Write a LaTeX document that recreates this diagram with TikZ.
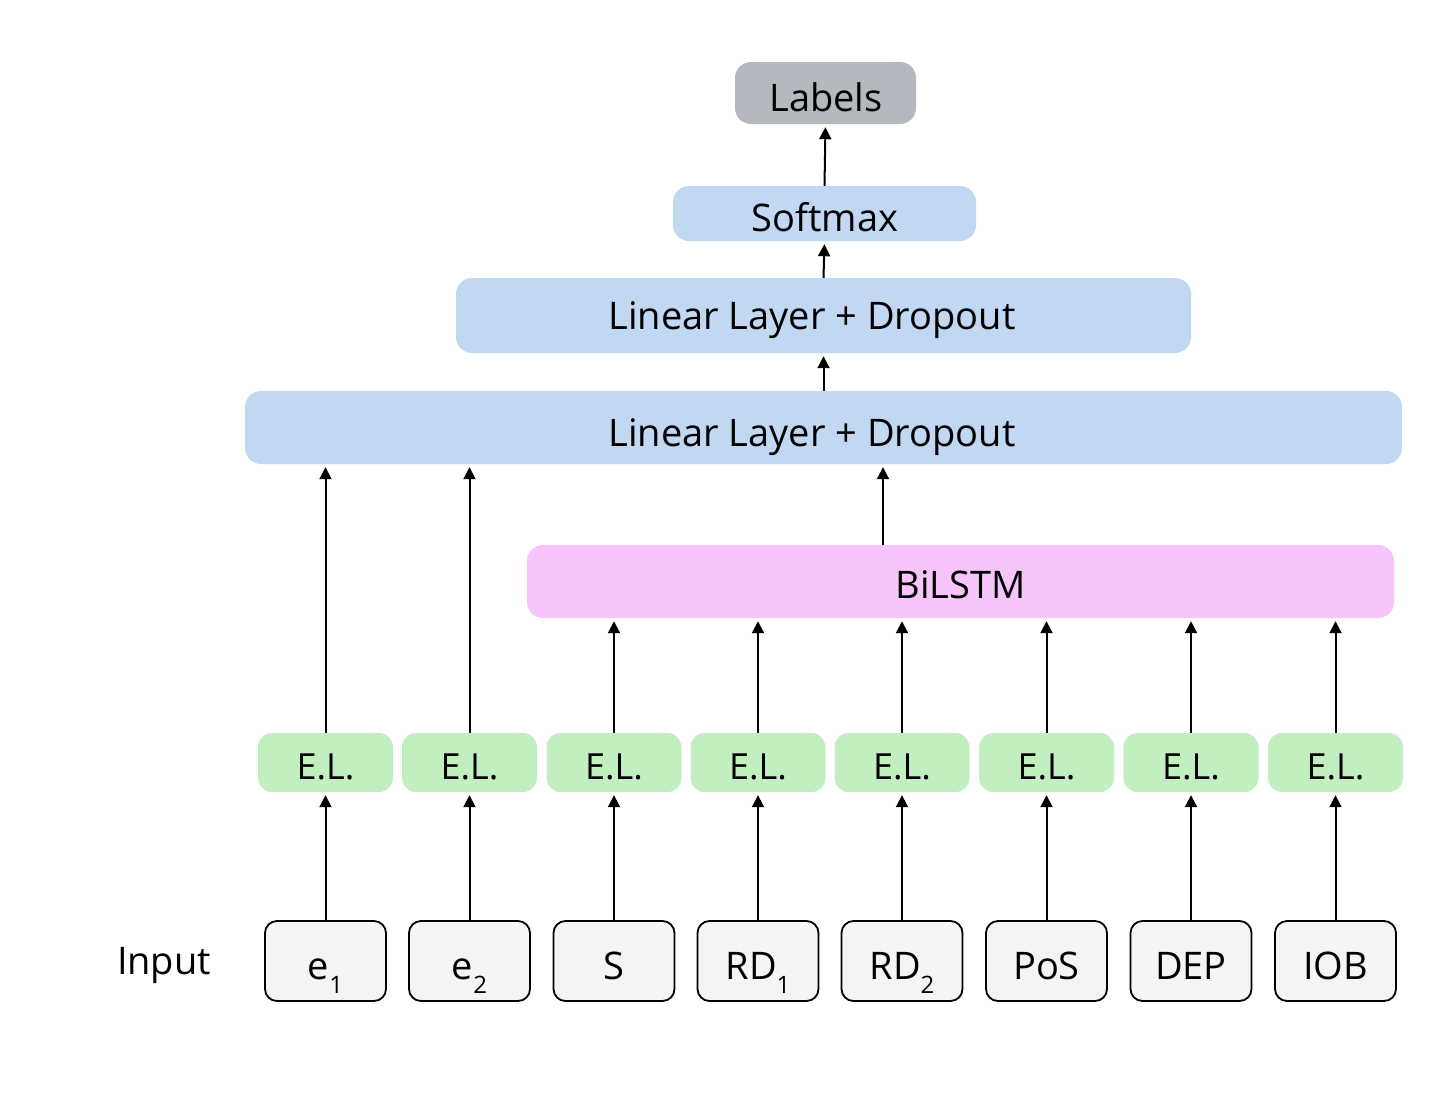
\documentclass[tikz,border=0pt]{standalone}
\usepackage{fontspec}
\setmainfont{Open Sans}
\usetikzlibrary{arrows.meta}
\definecolor{labgray}{HTML}{B4B8BF}
\definecolor{layblue}{HTML}{C2D7F2}
\definecolor{lstmpink}{HTML}{F7C5FB}
\definecolor{elgreen}{HTML}{C2EFC0}
\definecolor{inpfill}{HTML}{F4F4F4}
\newcommand{\sbs}[1]{\raisebox{-0.7ex}{\fontsize{24}{24}\selectfont #1}}
\tikzset{
  box/.style={rectangle, rounded corners=16pt, inner sep=0pt, font=\fontsize{38}{38}\selectfont, text=black},
  txt/.style={inner sep=0pt, font=\fontsize{38}{38}\selectfont, text=black},
  labbox/.style={box, fill=labgray, minimum width=181pt, minimum height=62pt},
  laybox/.style={box, fill=layblue},
  lstmbox/.style={box, fill=lstmpink, minimum width=867pt, minimum height=73pt},
  elbox/.style={box, fill=elgreen, minimum width=135pt, minimum height=59pt, rounded corners=14pt},
  inbox/.style={box, fill=inpfill, draw=black, line width=1.8pt, minimum width=121pt, minimum height=80pt, rounded corners=12pt},
  arr/.style={-{Triangle[width=12pt,length=12pt]}, line width=2pt, black, shorten >=3pt}
}
\begin{document}
\begin{tikzpicture}[x=1pt,y=-1pt]
\useasboundingbox (0,0) rectangle (1435,1098);
% top
\node[labbox] (lab) at (825.5,93) {};
\node[txt] (labt) at (826,97) {Labels};
\node[laybox, minimum width=303pt, minimum height=55pt] (soft) at (824.5,213.5) {};
\node[txt] (softt) at (825,217) {Softmax};
\node[laybox, minimum width=735pt, minimum height=75pt] (lin1) at (823.5,315.5) {};
\node[txt] (lin1t) at (812,320) {Linear Layer + Dropout};
\node[laybox, minimum width=1157pt, minimum height=73pt] (lin2) at (823.5,427.5) {};
\node[txt] (lin2t) at (812,437) {Linear Layer + Dropout};
\node[lstmbox] (lstm) at (960.5,581.5) {};
\node[txt] (lstmt) at (960.5,585) {BiLSTM};
% E.L. and inputs
\foreach \i/\x/\t in {1/325.5/e\sbs{1}, 2/469.5/e\sbs{2}, 3/614/S, 4/758/RD\sbs{1}, 5/902/RD\sbs{2}, 6/1046.5/PoS, 7/1191/DEP, 8/1335.5/IOB}{
  \node[elbox] (el\i) at (\x,762.5) {};
  \node[txt, font=\fontsize{36}{36}\selectfont] (elt\i) at (\x,767) {E.L.};
  \node[inbox] (in\i) at (\x,961) {};
  \node[txt, anchor=base] (int\i) at (\x,979) {\t};
  \draw[arr] (in\i.north) -- (el\i.south);
}
\node[txt] (inp) at (164,965) {Input};
% E.L. to layers
\draw[arr] (el1.north) -- (el1.north |- lin2.south);
\draw[arr] (el2.north) -- (el2.north |- lin2.south);
\foreach \i in {3,...,8}{
  \draw[arr] (el\i.north) -- (el\i.north |- lstm.south);
}
\coordinate (lstmout) at (883,545);
\draw[arr] (lstmout) -- (lstmout |- lin2.south);
\draw[arr] (lin2.north -| lin1.south) -- (lin1.south);
\draw[arr] (lin1.north) -- (soft.south);
\draw[arr] (soft.north) -- (lab.south);
\end{tikzpicture}
\end{document}
